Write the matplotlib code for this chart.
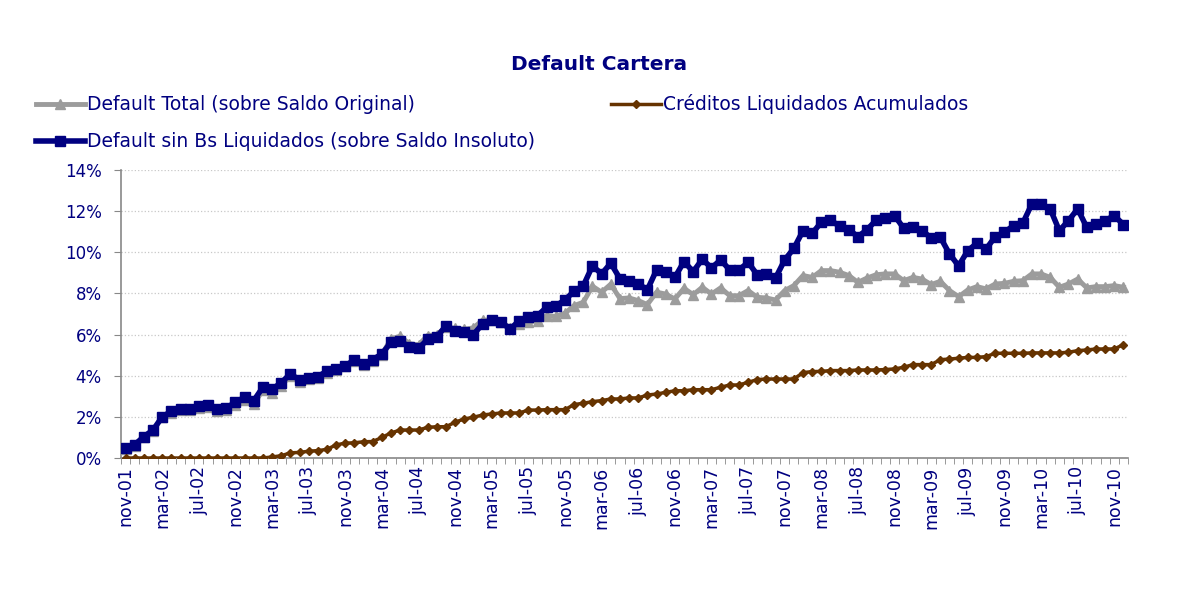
import matplotlib
matplotlib.use("Agg")
import matplotlib.pyplot as plt
from matplotlib.ticker import FuncFormatter, MultipleLocator
import numpy as np

# monthly series, nov-01 .. dic-10 (values in %)
month_names = ['ene', 'feb', 'mar', 'abr', 'may', 'jun',
               'jul', 'ago', 'sep', 'oct', 'nov', 'dic']
months = []
for k in range(110):
    m = (10 + k) % 12
    y = 1 + (10 + k) // 12
    months.append('%s-%02d' % (month_names[m], y))

default_total = [
    0.45, 0.60, 1.00, 1.32, 1.97, 2.20, 2.33, 2.35, 2.45, 2.50,
    2.27, 2.33, 2.60, 2.82, 2.62, 3.30, 3.17, 3.52, 4.00, 3.70,
    3.82, 3.90, 4.15, 4.26, 4.45, 4.70, 4.54, 4.73, 5.03, 5.80,
    5.92, 5.55, 5.50, 5.95, 6.00, 6.36, 6.30, 6.25, 6.33, 6.70,
    6.71, 6.62, 6.33, 6.49, 6.60, 6.68, 6.92, 6.88, 7.04, 7.41,
    7.57, 8.35, 8.06, 8.45, 7.75, 7.78, 7.65, 7.46, 8.06, 7.97,
    7.73, 8.25, 7.94, 8.30, 7.97, 8.27, 7.89, 7.89, 8.14, 7.81,
    7.78, 7.68, 8.14, 8.38, 8.87, 8.78, 9.11, 9.11, 9.03, 8.87,
    8.54, 8.75, 8.91, 8.95, 8.95, 8.62, 8.78, 8.70, 8.43, 8.59,
    8.14, 7.84, 8.17, 8.33, 8.22, 8.46, 8.49, 8.59, 8.62, 8.95,
    8.95, 8.78, 8.30, 8.46, 8.70, 8.27, 8.33, 8.33, 8.38, 8.30]

creditos_liq = [
    0.00, 0.00, 0.00, 0.00, 0.00, 0.00, 0.00, 0.00, 0.00, 0.00,
    0.00, 0.00, 0.00, 0.00, 0.00, 0.00, 0.05, 0.11, 0.25, 0.27,
    0.33, 0.36, 0.42, 0.64, 0.72, 0.74, 0.79, 0.80, 1.00, 1.22,
    1.36, 1.36, 1.36, 1.49, 1.52, 1.52, 1.74, 1.90, 1.98, 2.09,
    2.14, 2.19, 2.19, 2.19, 2.33, 2.33, 2.35, 2.35, 2.35, 2.60,
    2.66, 2.74, 2.79, 2.87, 2.87, 2.92, 2.92, 3.06, 3.11, 3.19,
    3.27, 3.27, 3.32, 3.32, 3.32, 3.44, 3.55, 3.55, 3.68, 3.81,
    3.84, 3.84, 3.84, 3.84, 4.15, 4.20, 4.21, 4.25, 4.25, 4.25,
    4.28, 4.28, 4.28, 4.30, 4.33, 4.41, 4.54, 4.54, 4.54, 4.78,
    4.81, 4.85, 4.89, 4.89, 4.93, 5.09, 5.09, 5.09, 5.09, 5.11,
    5.11, 5.11, 5.11, 5.14, 5.22, 5.25, 5.30, 5.30, 5.30, 5.51]

default_sin_liq = [
    0.50, 0.65, 1.04, 1.36, 2.00, 2.27, 2.40, 2.40, 2.53, 2.56,
    2.37, 2.43, 2.71, 2.95, 2.79, 3.44, 3.34, 3.66, 4.09, 3.79,
    3.89, 3.96, 4.22, 4.31, 4.48, 4.77, 4.56, 4.78, 5.06, 5.63,
    5.71, 5.38, 5.33, 5.77, 5.90, 6.42, 6.19, 6.11, 6.00, 6.52,
    6.71, 6.62, 6.26, 6.68, 6.84, 6.92, 7.33, 7.39, 7.69, 8.11,
    8.37, 9.34, 8.95, 9.47, 8.72, 8.59, 8.46, 8.18, 9.14, 9.06,
    8.78, 9.55, 9.06, 9.66, 9.24, 9.63, 9.14, 9.14, 9.51, 8.91,
    8.95, 8.75, 9.63, 10.19, 11.05, 10.92, 11.46, 11.57, 11.26, 11.10,
    10.76, 11.10, 11.57, 11.67, 11.78, 11.17, 11.25, 11.05, 10.70, 10.73,
    9.92, 9.34, 10.08, 10.44, 10.16, 10.76, 10.97, 11.30, 11.41, 12.35,
    12.35, 12.11, 11.05, 11.54, 12.11, 11.21, 11.38, 11.54, 11.78, 11.35]

navy = '#000080'
x = np.arange(len(months))

fig = plt.figure(figsize=(11.84, 5.97), dpi=100)
ax = fig.add_axes([121/1184, 1 - 458/597, (1128-121)/1184, (458-170)/597])

l1, = ax.plot(x, default_total, color='#9c9c9c', lw=3.5, marker='^', ms=7,
              label='Default Total (sobre Saldo Original)', zorder=3)
l2, = ax.plot(x, creditos_liq, color='#663300', lw=2.5, marker='D', ms=4.5,
              label='Créditos Liquidados Acumulados', zorder=4)
l3, = ax.plot(x, default_sin_liq, color=navy, lw=4, marker='s', ms=6.5,
              label='Default sin Bs Liquidados (sobre Saldo Insoluto)', zorder=5)

ax.set_xlim(-0.5, len(months) - 0.5)
ax.set_ylim(0, 14)
ax.yaxis.set_major_locator(MultipleLocator(2))
ax.yaxis.set_major_formatter(FuncFormatter(lambda v, p: '%d%%' % v))
ax.grid(axis='y', color='#c8c8c8', ls=':', lw=0.9)
ax.set_axisbelow(True)

ax.set_xticks(x[::4])
ax.set_xticklabels(months[::4], rotation=90)
ax.set_xticks(np.arange(len(months) + 1) - 0.5, minor=True)
ax.tick_params(axis='x', which='major', length=0, pad=6, labelsize=12.5, labelcolor=navy)
ax.tick_params(axis='x', which='minor', length=4, color='#888888', direction='out')
ax.tick_params(axis='y', length=5, color='#888888', labelsize=12, labelcolor=navy, pad=9)

for s in ['top', 'right']:
    ax.spines[s].set_visible(False)
for s in ['left', 'bottom']:
    ax.spines[s].set_color('#888888')
    ax.spines[s].set_linewidth(1.2)

fig.text(599/1184, 1 - 65/597, 'Default Cartera', ha='center', va='center',
         fontsize=14.5, fontweight='bold', color=navy)

leg = fig.legend(handles=[l1, l3, l2], ncol=2, loc='upper left',
                 bbox_to_anchor=(28/1184, 1 - 87/597), frameon=False,
                 fontsize=13.5, handlelength=2.65, handletextpad=0.12,
                 labelspacing=0.95, columnspacing=4.05, borderaxespad=0)
for t in leg.get_texts():
    t.set_color(navy)

fig.savefig('out.png', dpi=100)
